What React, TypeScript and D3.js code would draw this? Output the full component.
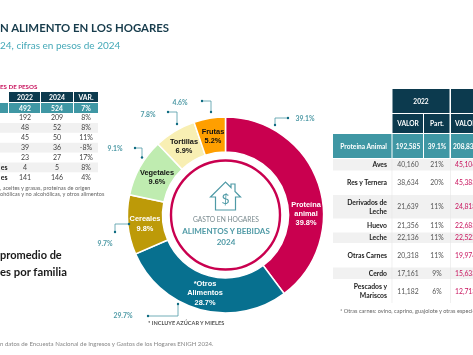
import React from "react";
import * as d3 from "d3";

// ---- data ----
const sliceNames = ["Proteina animal", "Otros Alimentos", "Cereales", "Vegetales", "Tortillas", "Frutas"];
const share2024 = [39.8, 28.7, 9.8, 9.6, 6.9, 5.2];
const share2022 = [39.1, 29.7, 9.7, 9.1, 7.8, 4.6];
const sliceColors = ["#c9004f", "#07708f", "#bd9a08", "#bfecb0", "#f8efb3", "#ff9f00"];
const sliceInk = ["#fff", "#fff", "#fff", "#111", "#111", "#111"];
const sliceLabelLines = [["Proteína", "animal", "39.8%"], ["*Otros", "Alimentos", "28.7%"], ["Cereales", "9.8%"], ["Vegetales", "9.6%"], ["Tortillas", "6.9%"], ["Frutas", "5.2%"]];

const leftHeaders = ["2022", "2024", "VAR."];
const leftTotal = ["492", "524", "7%"];
const leftRowLabels = ["", "", "", "", "", "es", "es"];
const left2022 = ["192", "48", "45", "39", "23", "4", "141"];
const left2024 = ["209", "52", "50", "36", "27", "5", "146"];
const leftVar = ["8%", "8%", "11%", "-8%", "17%", "8%", "4%"];

const rightRowLabels = [["Aves"], ["Res y Ternera"], ["Derivados de", "Leche"], ["Huevo"], ["Leche"], ["Otras Carnes"], ["Cerdo"], ["Pescados y", "Mariscos"]];
const right2022 = ["40,160", "38,634", "21,639", "21,356", "22,136", "20,318", "17,161", "11,182"];
const rightPart = ["21%", "20%", "11%", "11%", "11%", "11%", "9%", "6%"];
const right2024 = ["45,106", "45,383", "24,818", "22,683", "22,522", "19,974", "15,633", "12,713"];
const rightTotal = ["192,585", "39.1%", "208,830"];

// ---- layout ----
const W = 473, H = 355;
const cx = 225.5, cy = 215, R = 98, r0 = 63;
const DARK = "#0c3a4e", TEAL = "#3f97a4", TXT = "#4f9aa6", GREY = "#f1f1f1", PINK = "#c9155f";
const SANS = "Lato, 'Open Sans', sans-serif";
const ARIAL = "'Liberation Sans', Arial, sans-serif";

const labelAnchors: [number, number][] = [[306, 204], [205, 283], [145, 218], [157, 172], [184, 141], [213, 131]];
const labelStep = [9, 9.5, 10, 9.5, 9.5, 9.5];
const calloutPaths: [number, number][][] = [
  [[275, 125], [275, 118], [288, 118]],
  [[178, 304], [178, 316], [148, 316]],
  [[129, 224], [115, 224], [115, 232]],
  [[142, 157.5], [142, 148], [135, 148]],
  [[177, 124], [177, 112], [168, 112]],
  [[211, 112], [211, 101], [202, 101]],
];
const calloutLabels: [number, number][] = [[305, 119], [123, 316], [105, 244], [115, 149], [148, 114.5], [180, 103]];

const pie = d3.pie<number>().sort(null).value((d) => d);
const arc = d3.arc<d3.PieArcDatum<number>>().innerRadius(r0).outerRadius(R);
const slices = pie(share2024);

const leftX = d3.scaleOrdinal<number, number>().domain([0, 1, 2]).range([25, 57, 86]);
const leftEdges = [[9, 40], [41, 73], [74, 98]];
const leftY = d3.scaleLinear().domain([0, 6]).range([118, 177.3]);

const rightHeights = [12.5, 23.5, 24.5, 13, 11.5, 23.5, 12.5, 24];
const rightTops = d3.cumsum([158.5, ...rightHeights]);
const rightColX = [408, 437, 468];

export default function App() {
  return (
    <svg width={W} height={H} viewBox={`0 0 ${W} ${H}`} style={{ position: "absolute", left: 0, top: 0, background: "#fff", filter: "blur(0.4px)" }}>
      {/* titles */}
      <text x={0} y={32} fontFamily={SANS} fontWeight={700} fontSize={11.4} fill="#173c4c">N ALIMENTO EN LOS HOGARES</text>
      <text x={0} y={49} fontFamily={SANS} fontSize={10} fill="#45a9b8">24, cifras en pesos de 2024</text>
      <text x={0} y={88.5} fontFamily={SANS} fontWeight={700} fontSize={6.2} fill={PINK}>ES DE PESOS</text>

      {/* left table */}
      {leftHeaders.map((h, i) => (
        <g key={h}>
          <rect x={leftEdges[i][0]} y={92} width={leftEdges[i][1] - leftEdges[i][0]} height={10} fill={DARK} />
          <rect x={leftEdges[i][0]} y={103} width={leftEdges[i][1] - leftEdges[i][0]} height={10} fill={TEAL} />
          <text x={leftX(i)} y={99.6} textAnchor="middle" fontFamily={SANS} fontWeight={700} fontSize={6.8} fill="#fff">{h}</text>
          <text x={leftX(i)} y={110.6} textAnchor="middle" fontFamily={SANS} fontWeight={700} fontSize={6.8} fill="#fff">{leftTotal[i]}</text>
        </g>
      ))}
      <rect x={0} y={103} width={8} height={10} fill={TEAL} />
      {left2022.map((v, i) => (
        <g key={i} fontFamily={SANS} fontSize={7} fill="#444" textAnchor="middle">
          {i % 2 === 1 && <rect x={0} y={leftY(i) - 4.9} width={98} height={9.8} fill={GREY} />}
          <text x={7.5} y={leftY(i) + 2.4} textAnchor="end" fontWeight={700} fill="#222">{leftRowLabels[i]}</text>
          <text x={leftX(0)} y={leftY(i) + 2.4}>{v}</text>
          <text x={leftX(1)} y={leftY(i) + 2.4}>{left2024[i]}</text>
          <text x={leftX(2)} y={leftY(i) + 2.4}>{leftVar[i]}</text>
        </g>
      ))}
      <text x={0} y={190} fontFamily={SANS} fontSize={5.6} fill="#666">, aceites y grasas,   proteínas de origen</text>
      <text x={0} y={195.5} fontFamily={SANS} fontSize={5.6} fill="#666">ohólicas y no alcohólicas, y otros alimentos</text>

      {/* statement */}
      <text x={0} y={259} fontFamily={SANS} fontWeight={700} fontSize={11} fill="#1a1a1a">promedio de</text>
      <text x={0} y={276} fontFamily={SANS} fontWeight={700} fontSize={11.3} fill="#1a1a1a">es por familia</text>

      {/* donut */}
      {slices.map((s, i) => (
        <path key={sliceNames[i]} d={arc(s) ?? ""} transform={`translate(${cx},${cy})`} fill={sliceColors[i]} stroke="#fff" strokeWidth={1.5} />
      ))}
      <circle cx={cx} cy={cy} r={54.5} fill="none" stroke="#c9004f" strokeWidth={2.4} />
      {sliceLabelLines.map((lines, i) => (
        <text key={i} textAnchor="middle" fontFamily={ARIAL} fontWeight={700} fontSize={7.4} fill={sliceInk[i]}>
          {lines.map((l, j) => (
            <tspan key={j} x={labelAnchors[i][0]} y={labelAnchors[i][1] + 2.6 + j * labelStep[i]}>{l}</tspan>
          ))}
        </text>
      ))}

      {/* centre */}
      <g fill="none" stroke={TXT} strokeWidth={1.2} strokeLinejoin="miter">
        <path d="M210.5 197 L225.5 182 L231 187.5 L231 184 L235 184 L235 191.5 L240.5 197 L235.5 197 L235.5 210 L215.5 210 L215.5 197 Z" />
      </g>
      <text x={225.5} y={204} textAnchor="middle" fontFamily={SANS} fontSize={14} fill={TXT}>$</text>
      <text x={226} y={222} textAnchor="middle" fontFamily={SANS} fontSize={6.7} fill="#7a8a8f">GASTO EN HOGARES</text>
      <text x={226} y={233.5} textAnchor="middle" fontFamily={SANS} fontWeight={700} fontSize={8} fill={TXT}>ALIMENTOS Y BEBIDAS</text>
      <text x={226} y={244.5} textAnchor="middle" fontFamily={SANS} fontWeight={700} fontSize={8} fill={TXT}>2024</text>

      {/* callouts */}
      {share2022.map((v, i) => {
        const line = d3.line()(calloutPaths[i]) ?? "";
        const a = calloutPaths[i][0], b = calloutPaths[i][2];
        return (
          <g key={i}>
            <path d={line} fill="none" stroke={TXT} strokeWidth={0.8} />
            <circle cx={a[0]} cy={a[1]} r={1.2} fill="#0d6a80" />
            <circle cx={b[0]} cy={b[1]} r={1.2} fill="#0d6a80" />
            <text x={calloutLabels[i][0]} y={calloutLabels[i][1] + 2.3} textAnchor="middle" fontFamily={SANS} fontWeight={700} fontSize={6.8} fill={TXT}>{v.toFixed(1)}%</text>
          </g>
        );
      })}
      <text x={148} y={325} fontFamily={SANS} fontWeight={700} fontSize={5.6} fill="#555">* INCLUYE AZÚCAR Y MIELES</text>
      <text x={0} y={345.5} fontFamily={SANS} fontSize={6.1} fill="#888">n datos de Encuesta Nacional de Ingresos y Gastos de los Hogares ENIGH 2024.</text>

      {/* right table */}
      <rect x={392.5} y={89} width={57} height={24} fill={DARK} />
      <rect x={451} y={89} width={22} height={24} fill={DARK} />
      <rect x={392.5} y={114} width={30.5} height={19} fill={DARK} />
      <rect x={424} y={114} width={25.5} height={19} fill={DARK} />
      <rect x={451} y={114} width={22} height={19} fill={DARK} />
      <rect x={333} y={134} width={58.5} height={24} fill={TEAL} />
      <rect x={392.5} y={134} width={30.5} height={24} fill={TEAL} />
      <rect x={424} y={134} width={25.5} height={24} fill={TEAL} />
      <rect x={451} y={134} width={22} height={24} fill={TEAL} />
      <g fontFamily={SANS} fontWeight={700} fontSize={6.6} fill="#fff">
        <text x={421} y={104} textAnchor="middle">2022</text>
        <text x={408} y={126} textAnchor="middle">VALOR</text>
        <text x={437} y={126} textAnchor="middle">Part.</text>
        <text x={455} y={126}>VALOR</text>
        <text x={387} y={148.5} textAnchor="end">Proteina Animal</text>
        <text x={rightColX[0]} y={148.5} textAnchor="middle">{rightTotal[0]}</text>
        <text x={rightColX[1]} y={148.5} textAnchor="middle">{rightTotal[1]}</text>
        <text x={453} y={148.5}>{rightTotal[2]}</text>
      </g>
      {rightRowLabels.map((lines, i) => {
        const top = rightTops[i], h = rightHeights[i], mid = top + h / 2;
        return (
          <g key={i} fontFamily={SANS} fontSize={6.8}>
            {i % 2 === 0 && i < 7 && <rect x={333} y={top + 0.5} width={140} height={h - 1} fill={GREY} />}
            <text textAnchor="end" fontWeight={700} fill="#222">
              {lines.map((l, j) => (
                <tspan key={j} x={387} y={mid + 2.3 + (j - (lines.length - 1) / 2) * 9}>{l}</tspan>
              ))}
            </text>
            <text x={rightColX[0]} y={mid + 2.3} textAnchor="middle" fill="#555">{right2022[i]}</text>
            <text x={rightColX[1]} y={mid + 2.3} textAnchor="middle" fill="#555">{rightPart[i]}</text>
            <text x={455} y={mid + 2.3} fill={PINK}>{right2024[i]}</text>
          </g>
        );
      })}
      <line x1={392} x2={392} y1={158} y2={303} stroke="#e6e6e6" strokeWidth={0.6} />
      <line x1={450.5} x2={450.5} y1={158} y2={303} stroke="#e6e6e6" strokeWidth={0.6} />
      <text x={340} y={313} fontFamily={SANS} fontSize={5.6} fill="#666">* Otras carnes: ovino, caprino, guajolote y otras especies</text>
    </svg>
  );
}
